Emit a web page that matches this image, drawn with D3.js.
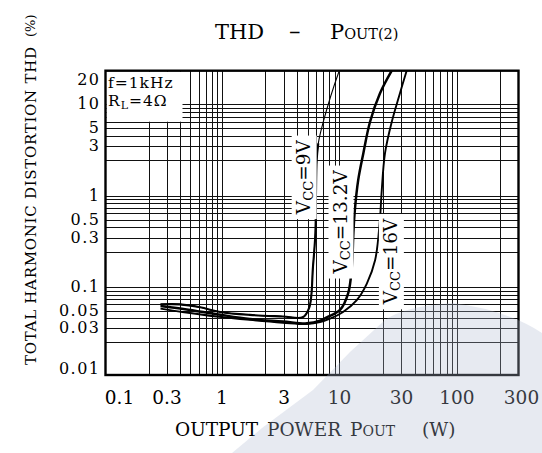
<!DOCTYPE html>
<html><head><meta charset="utf-8">
<script src="https://cdn.jsdelivr.net/npm/d3@7"></script>
<style>body{margin:0;background:#fff}svg{display:block}text{font-family:"DejaVu Serif",serif;fill:#000}</style>
</head><body><svg id="c" width="542" height="453"></svg>
<script>
// ---- data ----
const xTickLabels = [0.1, 0.3, 1, 3, 10, 30, 100, 300];
const yTickLabels = [0.01, 0.03, 0.05, 0.1, 0.3, 0.5, 1, 3, 5, 10, 20];
const seriesNames = ["9V", "13.2V", "16V"];
// [Pout (W), THD (%)]
const vcc9 = [[0.26,0.060],[0.40,0.060],[0.62,0.055],[0.96,0.048],[1.56,0.044],[2.93,0.042],[4.5,0.041],[5.2,0.055],[5.63,0.149],[5.93,0.34],[6.0,0.88],[6.1,2.0],[6.32,3.24],[7.05,6.06],[9.76,18.9],[10.0,20]];
const vcc132 = [[0.26,0.057],[0.445,0.052],[0.89,0.045],[1.56,0.039],[2.93,0.0363],[4.92,0.0343],[6.56,0.037],[7.59,0.041],[10.1,0.051],[11.5,0.083],[12.2,0.149],[12.5,0.34],[12.8,0.66],[13.5,1.35],[14.65,2.42],[16.3,6.0],[19.1,12.5],[24.3,20]];
const vcc16 = [[0.26,0.053],[0.42,0.048],[0.89,0.042],[1.56,0.038],[2.93,0.035],[4.92,0.0336],[6.56,0.0355],[8.15,0.0393],[10.6,0.048],[13.2,0.068],[15.5,0.107],[17.7,0.17],[19.1,0.50],[19.6,1.04],[20.97,2.42],[24.3,6.0],[29.0,12.5],[33.6,20]];
const seriesData = [vcc9, vcc132, vcc16];
const seriesWidths = [1.1, 2.5, 1.9];
// THD below which the 9V trace is drawn heavy
const heavyBelow = [3.3, 100, 100];
// label anchor positions in data units [P, THD]
const labelAt = [[4.55,1.43],[10.1,0.47],[23.6,0.165]];

// ---- layout ----
const L = 105.5, R = 518.5, T = 70.7, B = 375;
const svg = d3.select("#c");

const x = d3.scaleLog()
  .domain([0.1, 0.2, 1, 2, 10, 20, 100, 200, 300])
  .range([L, 148.5, 222, 265.4, 339.4, 382.8, 456.8, 500.2, R]);
const y = d3.scaleLog()
  .domain([0.01, 0.02, 0.1, 0.2, 1, 2, 10, 20])
  .range([B, 341.7, 287, 251.7, 195.5, 160, 104.3, T]);

// grid values
const gridX = [], gridY = [];
[0.1, 1, 10, 100].forEach(d => { for (let k = 1; k <= 9; k++) { const v = +(k*d).toPrecision(3); if (v > 0.1 && v < 300) gridX.push(v); } });
[0.01, 0.1, 1, 10].forEach(d => { for (let k = 1; k <= 9; k++) { const v = +(k*d).toPrecision(3); if (v > 0.01 && v < 20) gridY.push(v); } });

const gx = svg.append("g").attr("transform", `translate(0,${B})`)
  .call(d3.axisBottom(x).tickValues(gridX).tickSize(-(B - T)).tickFormat(""));
gx.select(".domain").remove();
gx.selectAll("line").attr("stroke", "#111").attr("stroke-width", 1).attr("shape-rendering", "crispEdges");
const gy = svg.append("g").attr("transform", `translate(${L},0)`)
  .call(d3.axisLeft(y).tickValues(gridY).tickSize(-(R - L)).tickFormat(""));
gy.select(".domain").remove();
gy.selectAll("line").attr("stroke", "#111").attr("stroke-width", 1).attr("shape-rendering", "crispEdges");

// legend box
svg.append("rect").attr("x", L + 1).attr("y", T + 1).attr("width", 76).attr("height", 50).attr("fill", "#fff");
svg.append("text").attr("x", 108).attr("y", 88).attr("font-size", 15.5).attr("letter-spacing", 1).text("f=1kHz");
const rl = svg.append("text").attr("x", 108).attr("y", 106).attr("font-size", 15.5).attr("letter-spacing", 1);
rl.append("tspan").text("R");
rl.append("tspan").attr("font-size", 11).attr("dy", 3).text("L");
rl.append("tspan").attr("dy", -3).text("=4Ω");

// curves
const line = d3.line().x(d => x(d[0])).y(d => y(d[1])).curve(d3.curveCatmullRom.alpha(0.5));
svg.append("clipPath").attr("id", "pc").append("rect").attr("x", L).attr("y", T).attr("width", R - L).attr("height", B - T);
const cg = svg.append("g").attr("clip-path", "url(#pc)");
cg.selectAll("path.full").data(seriesData).join("path").attr("class", "full")
  .attr("d", line).attr("fill", "none").attr("stroke", "#000").attr("stroke-width", (d, i) => seriesWidths[i]).attr("stroke-linejoin", "round");
cg.append("path").datum(vcc9.filter(d => d[1] <= heavyBelow[0]))
  .attr("d", line).attr("fill", "none").attr("stroke", "#000").attr("stroke-width", 2.1).attr("stroke-linejoin", "round");

// curve labels
seriesNames.forEach((name, i) => {
  const g = svg.append("g").attr("transform", `translate(${x(labelAt[i][0])},${y(labelAt[i][1])}) rotate(-90)`);
  const t = g.append("text").attr("text-anchor", "middle").attr("dy", "0.35em").attr("font-size", 18.5);
  t.append("tspan").text("V");
  t.append("tspan").attr("font-size", 13).attr("dy", 3).text("CC");
  t.append("tspan").attr("dy", -3).text("=" + name);
  const bb = t.node().getBBox();
  g.insert("rect", "text").attr("x", bb.x - 4).attr("y", bb.y - 1).attr("width", bb.width + 8).attr("height", bb.height + 2).attr("fill", "#fff");
});

// frame
svg.append("rect").attr("x", L).attr("y", T).attr("width", R - L).attr("height", B - T)
  .attr("fill", "none").attr("stroke", "#000").attr("stroke-width", 2.4);

// tick labels
const ya = svg.append("g").attr("transform", `translate(${L - 5},0)`)
  .call(d3.axisLeft(y).tickValues(yTickLabels).tickSize(0).tickPadding(0).tickFormat(d => String(d)));
ya.select(".domain").remove();
ya.selectAll(".tick").attr("transform", d => `translate(0,${Math.max(T + 9.5, Math.min(B - 6, y(d)))})`);
ya.selectAll("text").attr("font-family", "DejaVu Serif").attr("font-size", 16).attr("fill", "#000").attr("letter-spacing", 1.5);

const xa = svg.append("g").attr("transform", `translate(0,${B + 16})`)
  .call(d3.axisBottom(x).tickValues(xTickLabels).tickSize(0).tickPadding(0).tickFormat(d => String(d)));
xa.select(".domain").remove();
xa.selectAll(".tick").attr("transform", d => `translate(${Math.max(L + 14, x(d) + (d === 300 ? 3 : 0))},0)`);
xa.selectAll("text").attr("font-family", "DejaVu Serif").attr("font-size", 18.5).attr("fill", "#000").attr("dy", "0.71em");

// title
svg.append("text").attr("x", 215).attr("y", 39).attr("font-size", 21).text("THD");
svg.append("text").attr("x", 289).attr("y", 39).attr("font-size", 23).text("–");
const tt = svg.append("text").attr("x", 330).attr("y", 39).attr("font-size", 21);
tt.append("tspan").text("P");
tt.append("tspan").attr("font-size", 14.5).text("OUT(2)");

// x axis title
svg.append("text").attr("x", 175).attr("y", 436).attr("font-size", 18.5).text("OUTPUT");
svg.append("text").attr("x", 267).attr("y", 436).attr("font-size", 18.5).text("POWER");
const xp = svg.append("text").attr("x", 350).attr("y", 436).attr("font-size", 18.5);
xp.append("tspan").text("P");
xp.append("tspan").attr("font-size", 14).text("OUT");
svg.append("text").attr("x", 422).attr("y", 436).attr("font-size", 18.5).text("(W)");

// y axis title
svg.append("text").attr("transform", "translate(36,365) rotate(-90)").attr("font-size", 15)
  .attr("textLength", 318).attr("lengthAdjust", "spacing").text("TOTAL HARMONIC DISTORTION THD");
svg.append("text").attr("transform", "translate(35,37) rotate(-90)").attr("font-size", 13).text("(%)");

// watermark
svg.append("path").attr("d", "M232,453 L262,428 L313,390 L350,352 L385,320 Q405,306 453,303 Q507,310 542,333 L542,453 Z")
  .attr("fill", "#b0bad0").attr("opacity", 0.3);
</script></body></html>
